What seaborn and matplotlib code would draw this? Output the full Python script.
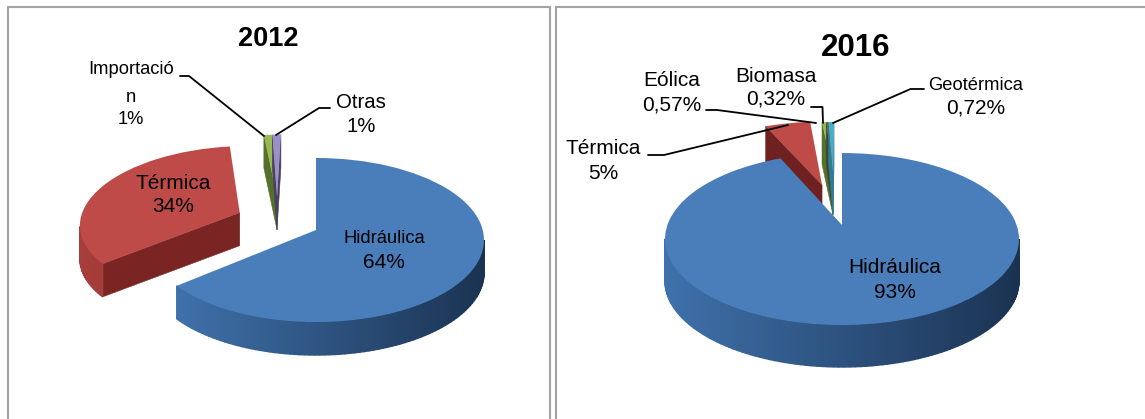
import numpy as np
import matplotlib
matplotlib.use("Agg")
import matplotlib.pyplot as plt
import seaborn as sns
from matplotlib.lines import Line2D
from matplotlib.transforms import Transform

# ---- data ----
labels_2012 = ["Hidráulica", "Térmica", "Importación", "Otras"]
values_2012 = [64, 34, 1, 1]
labels_2016 = ["Hidráulica", "Térmica", "Eólica", "Biomasa", "Geotérmica"]
values_2016 = [93, 5, 0.57, 0.32, 0.72]

colors_2012 = ["#4a7ebb", "#be4b48", "#98b954", "#9c90c8"]
colors_2016 = ["#4a7ebb", "#be4b48", "#98b954", "#5f6b55", "#4bacc6"]
side_2012 = [("#3f71ab", "#1b3352"), ("#a83e3b", "#8f2f2d"), ("#5f7a2c", "#46591f"), ("#5c5078", "#4a4060")]
side_2016 = [("#3f71ab", "#1b3352"), ("#8f2f2d", "#6e2120"), ("#5f7a2c", "#46591f"), ("#3c4436", "#3c4436"), ("#2f7d92", "#2f7d92")]
cut_2012 = ["#2a4f7c", "#7a2523", "#55702a", "#4a4060"]
cut_2016 = ["#2a4f7c", "#6e2120", "#55702a", "#3c4436", "#2f7d92"]

# ---- layout (pixels / unit-circle offsets) ----
W, H = 1145, 419
FAM = "Liberation Sans"


class Perspective(Transform):
    input_dims = output_dims = 2

    def __init__(self, p):
        super().__init__()
        self.p = p

    def transform_non_affine(self, xy):
        xy = np.asarray(xy, float)
        return xy / (1 + self.p * xy[:, 1:2])


def draw_pie(values, colors, sides, cuts, panel, cx, cy, a, b, p, depth,
             offsets, radii, order):
    ax = fig.add_axes([panel[0] / W, 1 - panel[3] / H,
                       (panel[2] - panel[0]) / W, (panel[3] - panel[1]) / H])
    wedges, _ = ax.pie(values, colors=colors, startangle=90, counterclock=False,
                       wedgeprops={"linewidth": 0})
    ax.set_aspect("auto")
    ax.set_xlim((panel[0] - cx) / a, (panel[2] - cx) / a)
    ax.set_ylim((cy - panel[3]) / b, (cy - panel[1]) / b)
    ax.axis("off")
    persp = Perspective(p)
    dz = depth / b
    for k, i in enumerate(order):
        w = wedges[i]
        w.set_center(offsets[i])
        w.set_radius(radii[i])
        w.set_transform(persp + ax.transData)
        base = 10 + 3 * k
        w.set_zorder(base + 2)
        # side walls derived from the wedge geometry
        th = np.radians(np.linspace(w.theta1, w.theta2, max(8, int((w.theta2 - w.theta1) / 1.5))))
        rim = np.c_[offsets[i][0] + radii[i] * np.cos(th), offsets[i][1] + radii[i] * np.sin(th)]
        rim = persp.transform_non_affine(rim)
        apex = persp.transform_non_affine(np.array([offsets[i]], float))[0]
        for P, Q in ((apex, rim[0]), (rim[-1], apex)):
            if Q[0] > P[0]:
                ax.fill([P[0], Q[0], Q[0], P[0]], [P[1], Q[1], Q[1] - dz, P[1] - dz],
                        color=cuts[i], lw=0.4, zorder=base)
        light = np.array(matplotlib.colors.to_rgb(sides[i][0]))
        dark = np.array(matplotlib.colors.to_rgb(sides[i][1]))
        xs = rim[:, 0]
        for P, Q in zip(rim[:-1], rim[1:]):
            if Q[0] > P[0]:
                t = np.clip(((P[0] + Q[0]) / 2 - xs.min()) / max(np.ptp(xs), 1e-6), 0, 1)
                ax.fill([P[0], Q[0], Q[0], P[0]], [P[1], Q[1], Q[1] - dz, P[1] - dz],
                        color=light + (dark - light) * t, lw=1.0, zorder=base + 1)
    return ax


def label(x, y, s, size, **kw):
    fig.text(x / W, 1 - y / H, s, fontsize=size, ha="center", va="center",
             family=FAM, color="black", zorder=50, **kw)


def leader(xs, ys):
    fig.add_artist(Line2D([x / W for x in xs], [1 - y / H for y in ys],
                          color="black", lw=1.3, zorder=40))


sns.set_theme(style="white")
fig = plt.figure(figsize=(W / 100, H / 100), dpi=100, facecolor="white")

# panel borders
for xs, ys in (([8, 8], [419, 7]), ([8, 550], [7, 7]), ([550, 550], [7, 419]),
               ([556, 556], [419, 7]), ([556, 1145], [7, 7])):
    fig.add_artist(Line2D([x / W for x in xs], [1 - y / H for y in ys],
                          color="#a3a3a3", lw=1.5, zorder=1))

draw_pie(values_2012, colors_2012, side_2012, cut_2012, (9, 8, 549, 419),
         316, 230, 166.7, 80.8, 0.122, 33,
         [(0, 0), (-0.47, 0.22), (-0.246, 0.43), (-0.246, 0.43)],
         [1, 0.97, 0.95, 0.95], [2, 3, 1, 0])
draw_pie(values_2016, colors_2016, side_2016, cut_2016, (557, 8, 1145, 419),
         842, 225, 174.6, 83.7, 0.163, 42,
         [(0, 0), (-0.124, 0.518), (-0.057, 0.69), (-0.057, 0.69), (-0.057, 0.69)],
         [1, 1.03, 0.85, 0.85, 0.85], [1, 2, 3, 4, 0])

# 2012 texts
label(268, 39, "2012", 19.5, fontweight="bold")
label(131, 70, "Importació", 13.2)
label(131, 97, "n", 13.2)
label(131, 119, "1%", 13.2)
label(361, 102, "Otras", 14.7)
label(361, 127, "1%", 14.7)
label(173, 183, "Térmica", 15)
label(173, 207, "34%", 15)
label(384, 238, "Hidráulica", 13.2)
label(384, 262, "64%", 15)
# 2016 texts
label(855.5, 48, "2016", 22.5, fontweight="bold")
label(672, 80, "Eólica", 15)
label(672, 105, "0,57%", 15)
label(776, 76, "Biomasa", 15)
label(776, 99, "0,32%", 15)
label(976, 85, "Geotérmica", 13.2)
label(976, 108, "0,72%", 15)
label(603, 148, "Térmica", 15)
label(603, 173, "5%", 15)
label(895, 267, "Hidráulica", 15)
label(895, 292, "93%", 15)

# leaders
leader([180, 189, 264], [76, 76, 136])
leader([330, 319, 276], [108, 108, 135])
leader([706, 717, 816], [110, 110, 123])
leader([811, 822.5, 823], [107, 107, 123])
leader([924, 910.5, 833], [89, 89, 123])
leader([648, 664, 788], [155, 155, 125])

fig.savefig("out.png", dpi=100)
